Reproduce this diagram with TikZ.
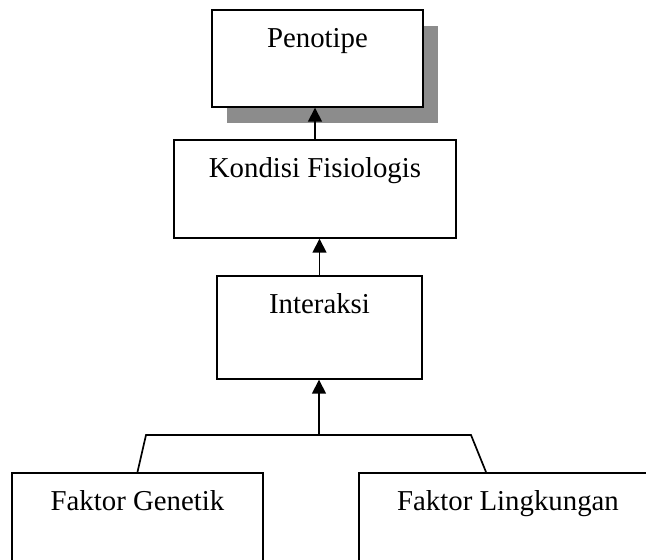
\documentclass[tikz,border=0pt]{standalone}
\usepackage{fontspec}
\setmainfont{Liberation Serif}
\usetikzlibrary{arrows.meta, shadows}

\begin{document}
\begin{tikzpicture}[
    x=0.025cm,
    y=-0.025cm,
    >={Triangle[length=0.35cm, width=0.35cm]},
    line width=1.2pt,
    kotak/.style={draw, fill=white, rectangle, anchor=north, inner sep=0pt,
        text height=0.95cm, font=\fontsize{20.5}{24}\selectfont},
    bayang/.style={drop shadow={shadow xshift=0.375cm, shadow yshift=-0.4cm,
        fill=black!45, opacity=1}},
]
    \useasboundingbox (0,0) rectangle (646,560);
    \clip (0,0) rectangle (646,560);

    \node[kotak, bayang, minimum width=5.275cm, text depth=1.475cm] (P) at (317.5,9)   {Penotipe};
    \node[kotak,         minimum width=7.05cm,  text depth=1.5cm]   (K) at (315,139)   {Kondisi Fisiologis};
    \node[kotak,         minimum width=5.125cm, text depth=1.625cm] (I) at (319.5,275) {Interaksi};
    \node[kotak,         minimum width=6.275cm, text depth=2.2cm]   (G) at (137.5,472) {Faktor Genetik};
    \node[kotak,         minimum width=7.45cm,  text depth=2.2cm]   (L) at (508,472)   {Faktor Lingkungan};

    \coordinate (gabung) at (319,435);
    \coordinate (kiri)   at (146,435);
    \coordinate (kanan)  at (471,435);

    \draw (G.north) -- (kiri) -- (kanan) -- ([xshift=-0.55cm]L.north);
    \draw[->] (gabung) -- (gabung |- I.south);
    \draw[->] (I.north) -- (I.north |- K.south);
    \draw[->] (K.north) -- (K.north |- P.south);
\end{tikzpicture}
\end{document}
